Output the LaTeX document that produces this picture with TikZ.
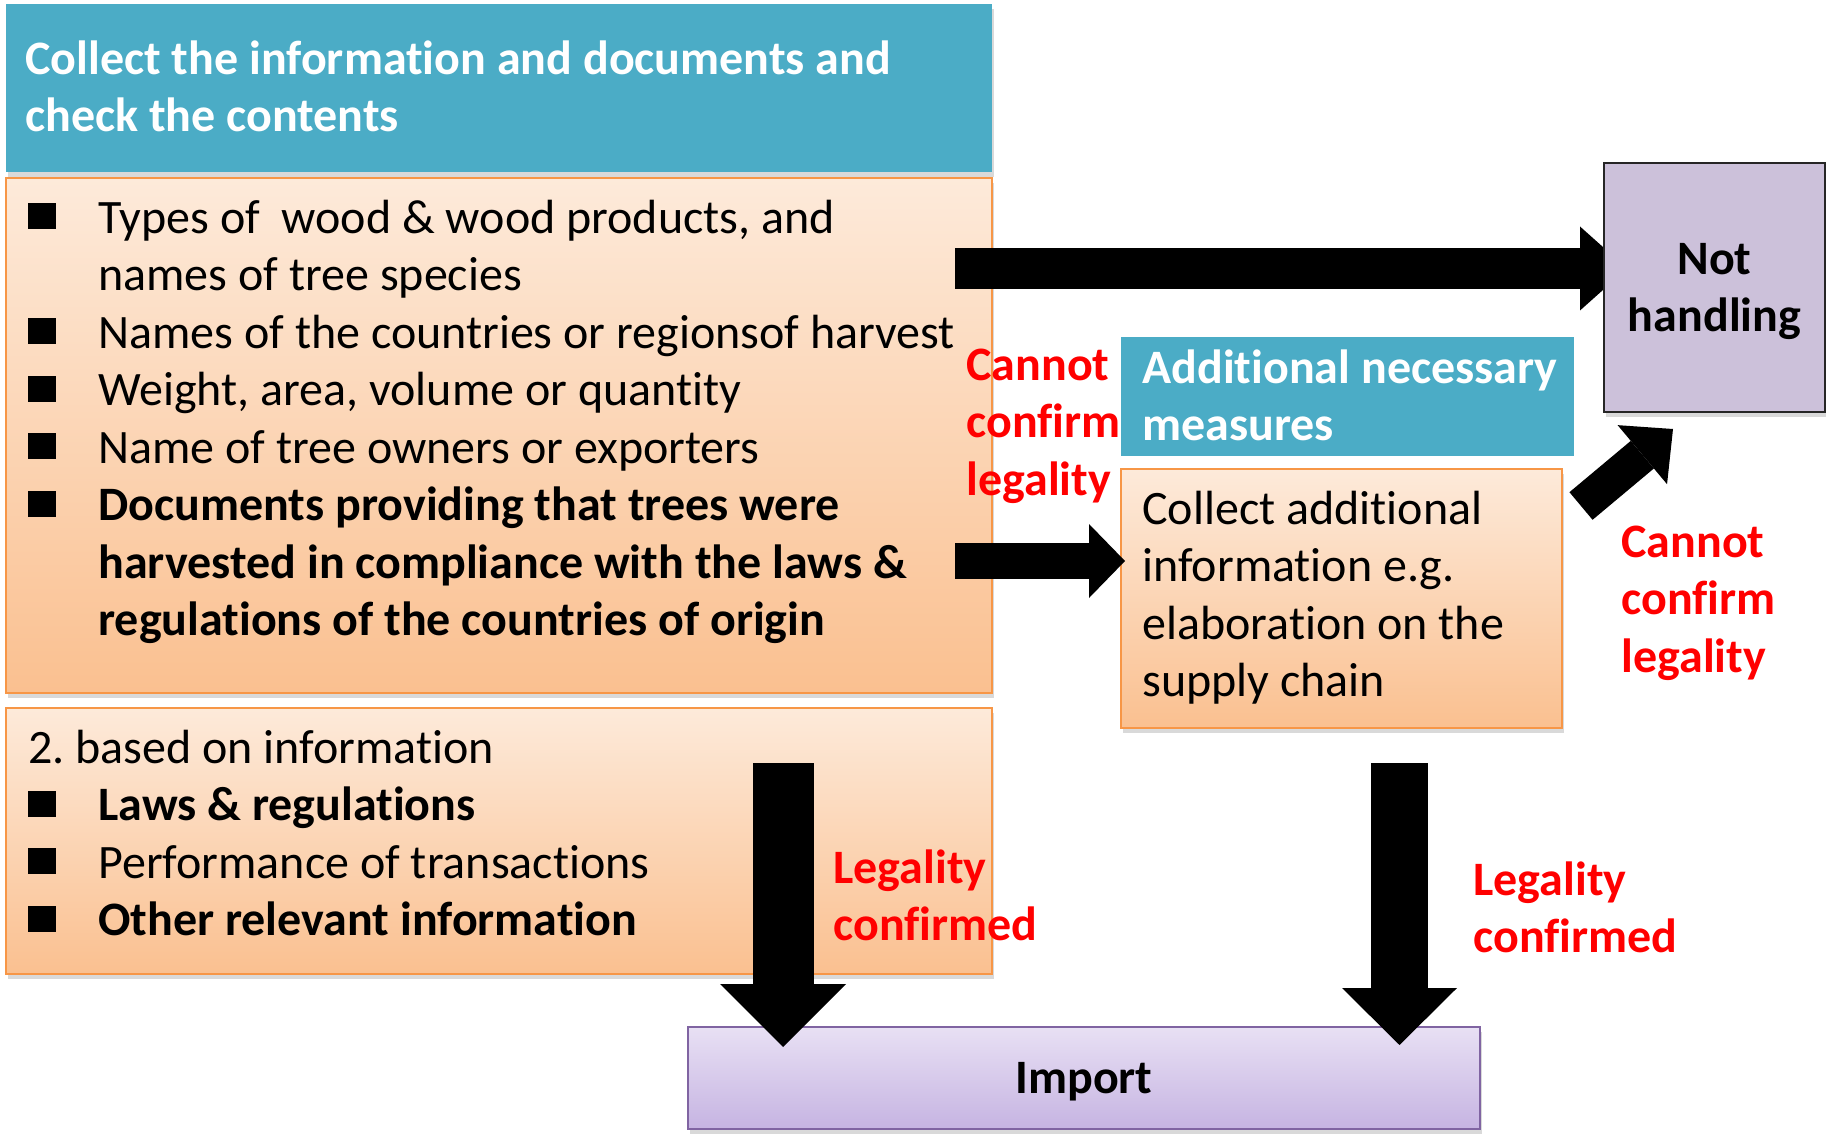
\documentclass[tikz,border=0pt]{standalone}
\usepackage{fontspec}
\setmainfont{Carlito}[Ligatures={NoCommon,NoContextual}]
\usepackage{tikz}
\usetikzlibrary{arrows.meta, shadows, calc}

\definecolor{tealhead}{HTML}{4BACC6}
\definecolor{orangetop}{HTML}{FDEADA}
\definecolor{orangebot}{HTML}{FAC090}
\definecolor{orangeline}{HTML}{F79646}
\definecolor{lilacfill}{HTML}{CCC1DA}
\definecolor{importtop}{HTML}{E8E0F4}
\definecolor{importbot}{HTML}{C6B4E2}
\definecolor{importline}{HTML}{8064A2}
\definecolor{warnred}{HTML}{FF0000}

\pgfdeclarelayer{front}
\pgfsetlayers{main,front}

\newcommand{\bsq}{\makebox[35pt][l]{\rule[2pt]{14pt}{13pt}}}
\newcommand{\ind}{\hspace*{35pt}}

\begin{document}
\begin{tikzpicture}[x=0.5pt, y=-0.5pt,
            box/.style={anchor=north west, inner sep=0pt, outer sep=0pt}, % placed by its corner
            shade/.style={drop shadow={shadow xshift=1pt, shadow yshift=-2.5pt, opacity=0.3}}, % soft shadow below
            headbox/.style={box, fill=tealhead}, % teal title bars
            listbox/.style={box, shade, top color=orangetop, bottom color=orangebot, draw=orangeline, line width=0.8pt}, % orange panels
            txt/.style={anchor=north west, inner sep=0pt, align=left, font=\fontsize{24}{28.75}\selectfont},
            headtxt/.style={txt, text=white, font=\fontsize{24}{28.75}\selectfont\bfseries},
            redtxt/.style={txt, text=warnred, font=\fontsize{24}{28.75}\selectfont\bfseries},
            blockarrow/.style n args={3}{line width=#1, -{Triangle[length=#2, width=#3, line width=0pt]}} % fat black arrows
            ]

        \useasboundingbox (0,0) rectangle (1826,1134);

        % Boxes
        \node[headbox, shade, minimum width=493pt, minimum height=84pt] (head) at (6,4) {};
        \node[listbox, minimum width=493pt, minimum height=257.5pt] (docs) at (6,178) {};
        \node[listbox, minimum width=493pt, minimum height=133pt] (basis) at (6,708) {};
        \node[headbox, minimum width=226.5pt, minimum height=59.5pt] (addhead) at (1121,337) {};
        \node[listbox, minimum width=220.5pt, minimum height=129.5pt] (addbox) at (1121,469) {};
        \node[box, shade, top color=importtop, bottom color=importbot, draw=importline, line width=1pt, text depth=0pt,
              minimum width=396pt, minimum height=51pt, font=\fontsize{24}{28.75}\selectfont\bfseries] (import) at (688,1027) {Import};
        \begin{pgfonlayer}{front}
        \node[box, shade, fill=lilacfill, draw=black!85, line width=1pt, minimum width=110.5pt, minimum height=124.5pt,
              text depth=0pt, align=center, font=\fontsize{24}{28.75}\selectfont\bfseries] (nothandling) at (1604,163) {Not\\handling};
        \end{pgfonlayer}

        % Texts
        \node[headtxt] (headtext) at (25,33.75) {\strut Collect the information and documents and\\\strut check the contents};
        \node[txt] (docstext) at (28,192.75) {\strut\bsq Types of\ \ wood \& wood products, and\\
            \strut\ind names of tree species\\
            \strut\bsq Names of the countries or regionsof harvest\\
            \strut\bsq Weight, area, volume or quantity\\
            \strut\bsq Name of tree owners or exporters\\
            \strut\bsq\textbf{Documents providing that trees were}\\
            \strut\ind\textbf{harvested in compliance with the laws \&}\\
            \strut\ind\textbf{regulations of the countries of origin}};
        \node[txt] (basistext) at (28,722.75) {\strut 2.\ based on information\\
            \strut\bsq\textbf{Laws \& regulations}\\
            \strut\bsq Performance of transactions\\
            \strut\bsq\textbf{Other relevant information}};
        \node[headtxt] (addheadtext) at (1142,342.75) {\strut Additional necessary\\\strut measures};
        \node[txt] (addtext) at (1142,483.75) {\strut Collect additional\\\strut information e.g.\\\strut elaboration on the\\\strut supply chain};
        \node[redtxt] (nolegal1) at (966,339.75) {\strut Cannot\\\strut confirm\\\strut legality};
        \node[redtxt] (nolegal2) at (1621,516.75) {\strut Cannot\\\strut confirm\\\strut legality};
        \node[redtxt] (legal1) at (833,842.75) {\strut Legality\\\strut confirmed};
        \node[redtxt] (legal2) at (1473,854.75) {\strut Legality\\\strut confirmed};

        % Arrows
        \coordinate (t1) at (955,268.5);
        \coordinate (t2) at (955,561);
        \coordinate (t4) at (783,763);
        \coordinate (t5) at (1399.5,763);
        \draw[blockarrow={20.5pt}{23.5pt}{42pt}] (t1) -- ($(t1 -| nothandling.west)+(23,0)$);
        \draw[blockarrow={18pt}{18pt}{37pt}] (t2) -- ($(t2 -| addbox.west)+(4,0)$);
        \draw[blockarrow={18pt}{20pt}{38.5pt}] ($(addbox.north east)+(19,37)$) -- ($(nothandling.south west)+(69,17)$);
        \draw[blockarrow={30.5pt}{31.5pt}{63pt}] (t4) -- ($(t4 |- import.north)+(0,20)$);
        \draw[blockarrow={28.5pt}{28.5pt}{57.5pt}] (t5) -- ($(t5 |- import.north)+(0,18)$);

\end{tikzpicture}
\end{document}
